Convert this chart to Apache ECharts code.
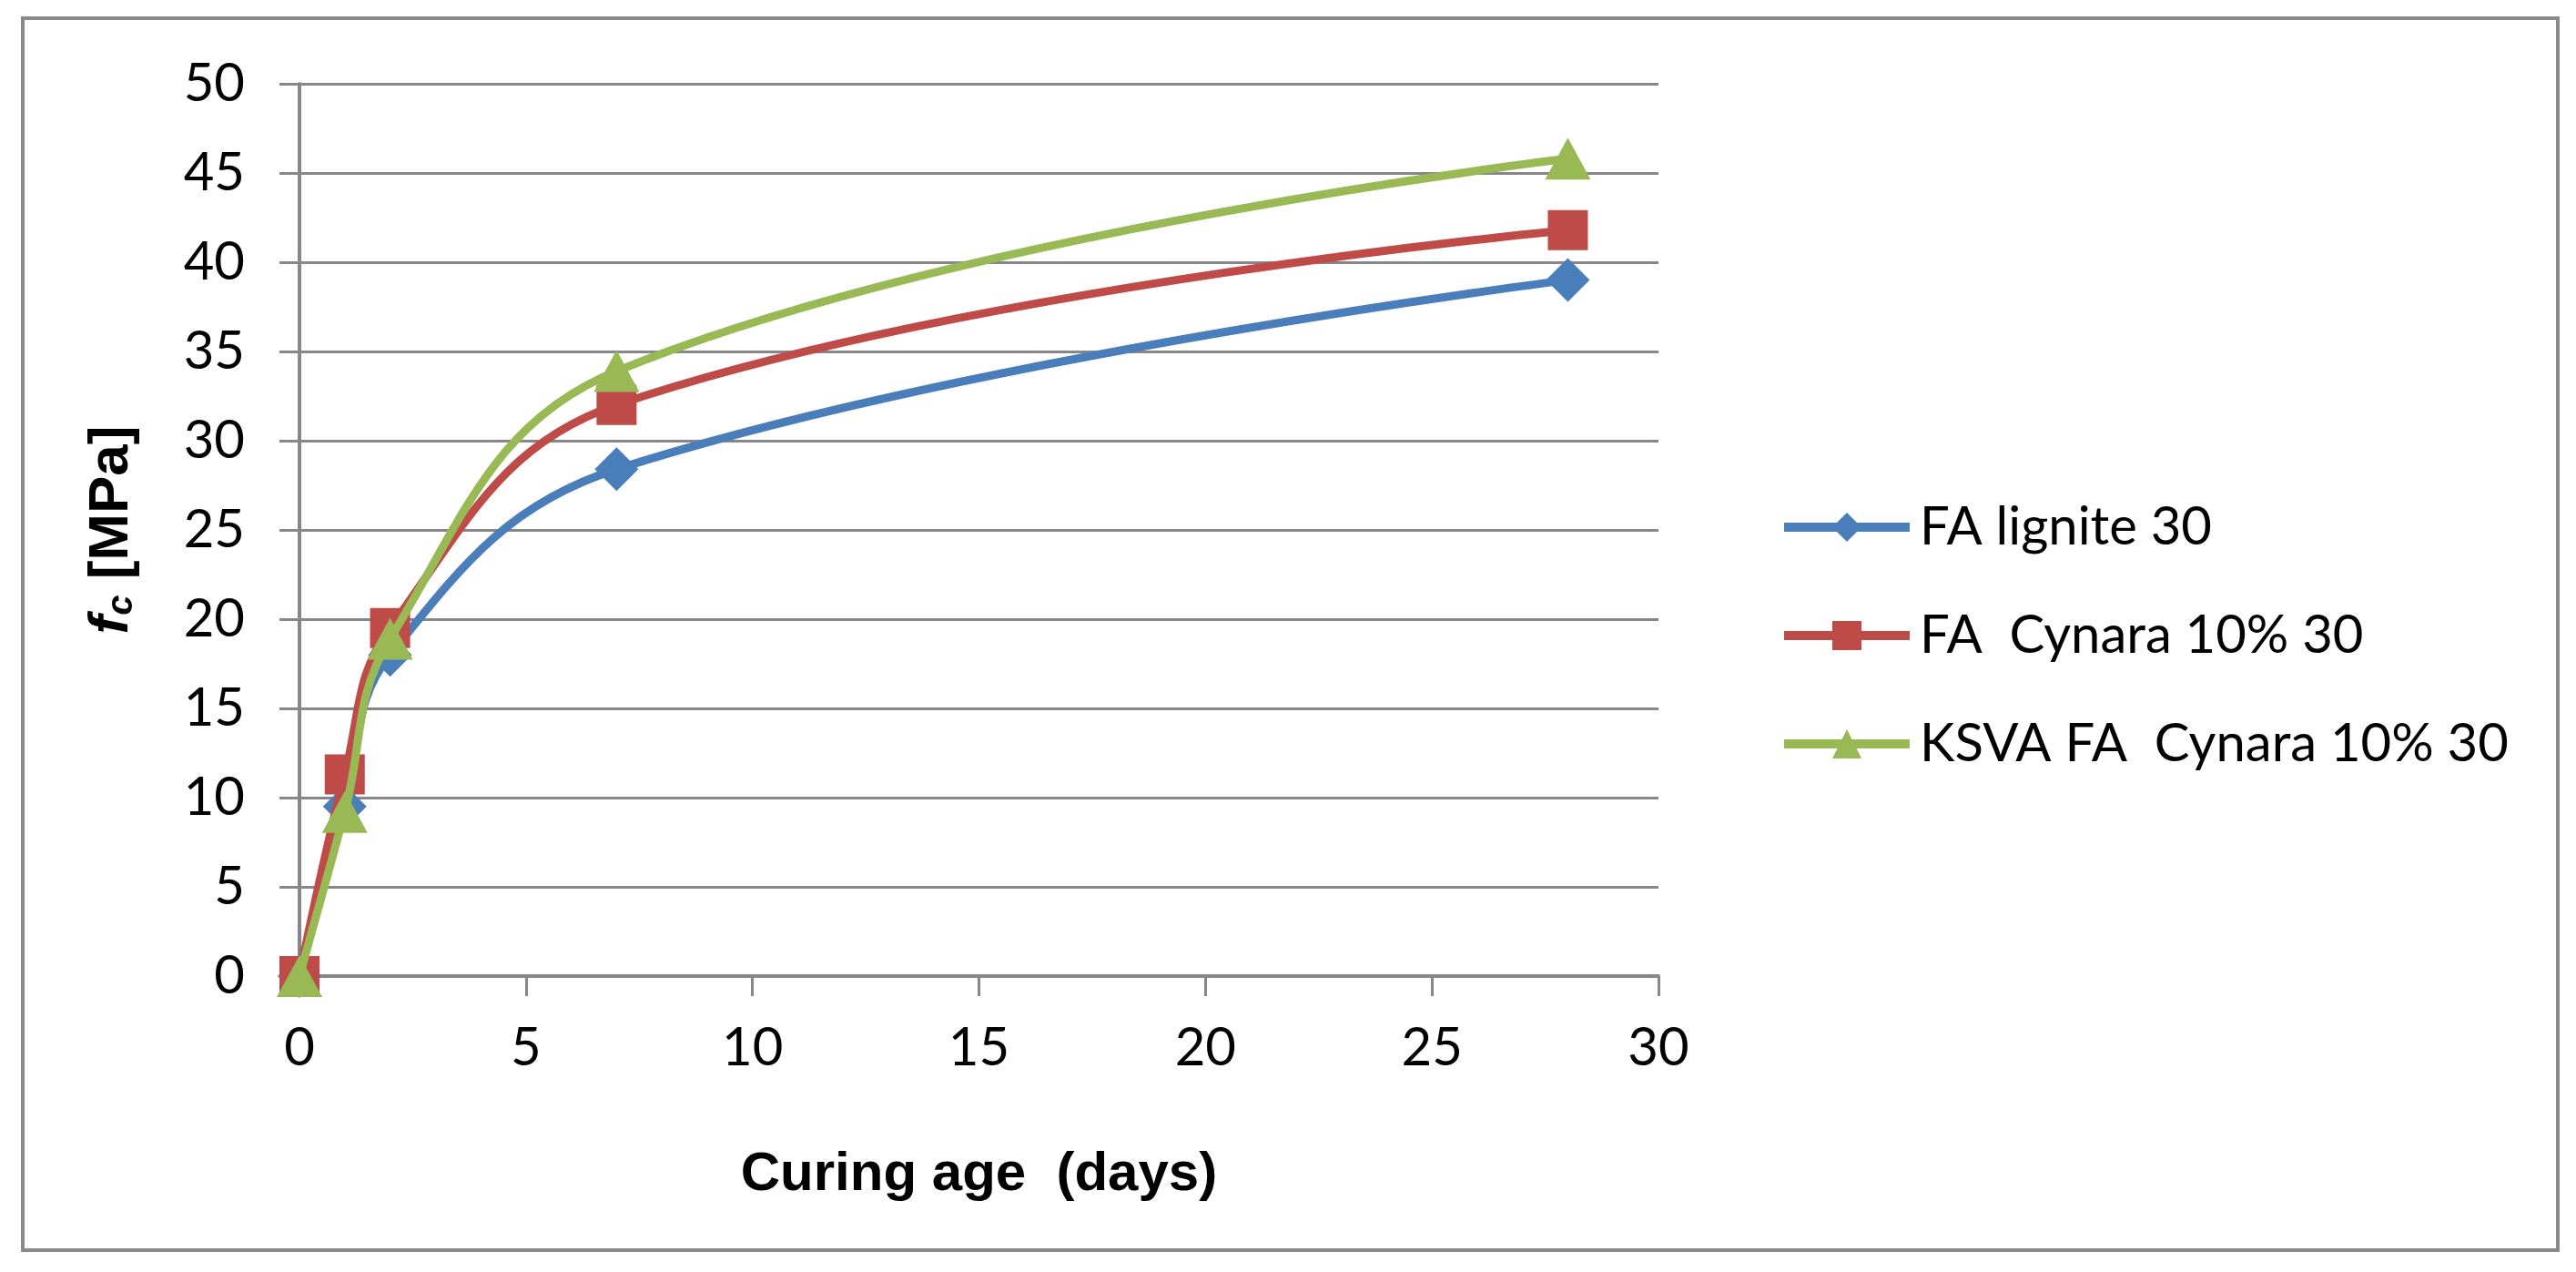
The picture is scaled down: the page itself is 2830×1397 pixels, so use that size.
<!DOCTYPE html>
<html>
<head>
<meta charset="utf-8">
<script src="https://cdn.jsdelivr.net/npm/echarts@6/dist/echarts.min.js"></script>
<style>
html,body{margin:0;padding:0;background:#fff;}
#chart{width:2830px;height:1397px;}
</style>
</head>
<body>
<div id="chart"></div>
<script>
// Data
const seriesNames = ['FA lignite 30', 'FA  Cynara 10% 30', 'KSVA FA  Cynara 10% 30'];
const curingDays = [0, 1, 2, 7, 28];
const faLignite = [0, 9.5, 18.0, 28.4, 39.0];
const faCynara = [0, 11.3, 19.5, 32.0, 41.8];
const ksvaFaCynara = [0, 9.2, 18.9, 33.9, 45.8];
const xTicks = [0, 5, 10, 15, 20, 25, 30];
const yTicks = [0, 5, 10, 15, 20, 25, 30, 35, 40, 45, 50];

const colors = ['#4A7EBB', '#BE4B48', '#98B954'];
const symbols = ['diamond', 'rect', 'triangle'];
const symbolSizes = [[48, 48], [44, 44], [50, 46]];
const values = [faLignite, faCynara, ksvaFaCynara];

const chart = echarts.init(document.getElementById('chart'), null, {renderer: 'canvas'});

const gridCol = '#878787';
const option = {
  backgroundColor: '#ffffff',
  animation: false,
  color: colors,
  graphic: [{
    type: 'rect',
    shape: {x: 25, y: 20, width: 2785, height: 1353},
    style: {fill: 'none', stroke: '#8a8a8a', lineWidth: 4},
    silent: true
  }],
  grid: {left: 329, top: 92, width: 1493, height: 980, containLabel: false},
  legend: {
    orient: 'vertical',
    left: 1950,
    top: 545,
    itemWidth: 138,
    itemHeight: 40,
    itemGap: 61,
    lineStyle: {width: 10},
    textStyle: {fontFamily: 'Lato', fontSize: 58, color: '#000', padding: [0, 0, 0, 6]},
    data: seriesNames
  },
  xAxis: {
    type: 'value',
    min: xTicks[0],
    max: xTicks[xTicks.length - 1],
    interval: 5,
    name: 'Curing age  (days)',
    nameLocation: 'middle',
    nameGap: 188,
    nameTextStyle: {fontFamily: 'Liberation Sans', fontWeight: 'bold', fontSize: 60, color: '#000'},
    axisLine: {show: true, lineStyle: {color: gridCol, width: 4}},
    axisTick: {show: true, length: 22, lineStyle: {color: gridCol, width: 3}},
    axisLabel: {fontFamily: 'Lato', fontSize: 58, color: '#000', margin: 50},
    splitLine: {show: false}
  },
  yAxis: {
    type: 'value',
    min: yTicks[0],
    max: yTicks[yTicks.length - 1],
    interval: 5,
    name: '{f|f}{s|c}{r| [MPa]}',
    nameLocation: 'middle',
    nameGap: 175,
    nameTextStyle: {
      color: '#000',
      rich: {
        f: {fontFamily: 'Liberation Sans', fontWeight: 'bold', fontStyle: 'italic', fontSize: 62, color: '#000'},
        s: {fontFamily: 'Liberation Sans', fontWeight: 'bold', fontStyle: 'italic', fontSize: 40, color: '#000', verticalAlign: 'bottom', padding: [18, 0, 0, 0]},
        r: {fontFamily: 'Liberation Sans', fontWeight: 'bold', fontSize: 62, color: '#000'}
      }
    },
    axisLine: {show: true, lineStyle: {color: gridCol, width: 4}},
    axisTick: {show: true, length: 22, lineStyle: {color: gridCol, width: 3}},
    axisLabel: {fontFamily: 'Lato', fontSize: 58, color: '#000', margin: 60},
    splitLine: {show: true, lineStyle: {color: gridCol, width: 3}}
  },
  series: seriesNames.map((name, i) => ({
    name: name,
    type: 'line',
    smooth: 0.4,
    data: curingDays.map((d, j) => [d, values[i][j]]),
    symbol: symbols[i],
    symbolSize: symbolSizes[i],
    showAllSymbol: true,
    lineStyle: {color: colors[i], width: 9},
    itemStyle: {color: colors[i]},
    z: 2 + i
  }))
};
chart.setOption(option);
</script>
</body>
</html>
